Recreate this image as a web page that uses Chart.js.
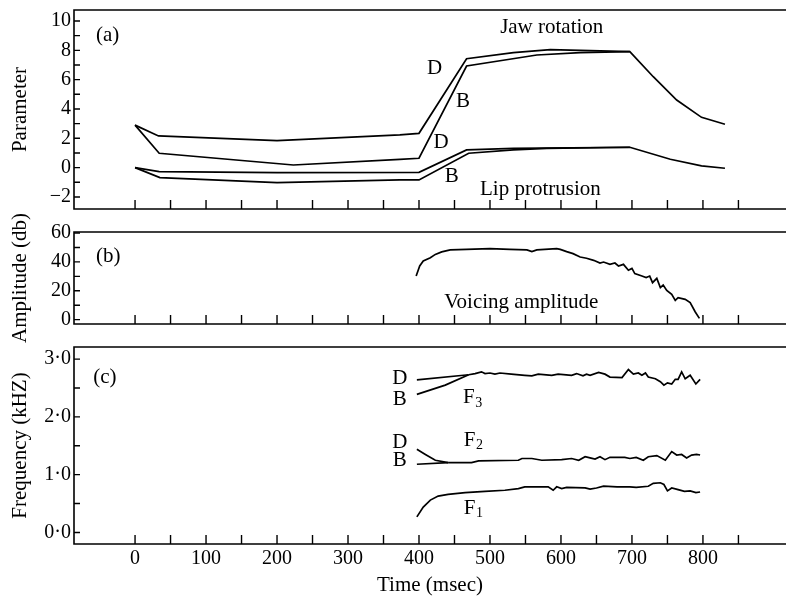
<!DOCTYPE html>
<html><head><meta charset="utf-8">
<script src="https://cdn.jsdelivr.net/npm/chart.js@4/dist/chart.umd.min.js"></script>
<style>
html,body{margin:0;padding:0;background:#fff;}
#wrap{position:relative;width:786px;height:596px;overflow:hidden;background:#fff}
.p{position:absolute;left:0;}
canvas{display:block}
</style></head><body>
<div id="wrap">
<div class="p" style="top:0px"><canvas id="ca" width="786" height="215"></canvas></div>
<div class="p" style="top:195px"><canvas id="cb" width="786" height="160"></canvas></div>
<div class="p" style="top:330px"><canvas id="cc" width="786" height="266"></canvas></div>
</div>
<script>
// ---------- data (time in msec) ----------
// (a) Jaw rotation
const jawTimeD = [0, 33, 200, 373, 400, 467, 533, 585, 697, 730, 763, 798, 831];
const jawD     = [2.9, 2.16, 1.84, 2.23, 2.34, 7.43, 7.84, 8.05, 7.91, 6.2, 4.61, 3.43, 2.96];
const jawTimeB = [0, 34, 223, 373, 400, 467, 566, 627, 697];
const jawB     = [2.9, 0.98, 0.18, 0.57, 0.64, 6.93, 7.68, 7.84, 7.91];
// (a) Lip protrusion
const lipTimeD = [0, 34, 200, 400, 467, 533, 697, 754, 798, 831];
const lipD     = [0, -0.27, -0.34, -0.32, 1.21, 1.32, 1.39, 0.57, 0.12, -0.04];
const lipTimeB = [0, 35, 200, 373, 400, 470, 533, 580, 697];
const lipB     = [0, -0.68, -1.02, -0.84, -0.84, 0.98, 1.21, 1.32, 1.39];
// (b) Voicing amplitude (db)
const ampTime = [396, 401, 406, 416, 423, 432, 444, 467, 500, 528, 552, 559, 566, 594, 599, 608, 617, 627, 636, 646, 655, 660, 669, 676, 681, 688, 695, 700, 704, 714, 720, 725, 729, 735, 740, 744, 749, 756, 761, 765, 775, 782, 789, 795];
const amp     = [30.2, 37.2, 40.6, 42.9, 45.2, 46.9, 48.3, 48.7, 49.2, 48.7, 48.3, 47.1, 48.3, 49.2, 48.7, 47.1, 45.7, 43.4, 42.5, 41.1, 39.2, 39.9, 38.3, 39.2, 37.2, 38.3, 34.2, 35.5, 31.9, 30.2, 29.1, 30.2, 25.6, 28.6, 22.2, 24.0, 20.3, 17.5, 13.4, 15.2, 14.1, 11.8, 5.5, 0.9];
// (c) Formants (kHz)
const f3TimeD = [397, 470];
const f3D     = [2.64, 2.73];
const f3TimeB = [397, 437, 470];
const f3B     = [2.39, 2.55, 2.73];
const f3Time  = [470, 479, 488, 493, 500, 507, 514, 530, 549, 559, 568, 587, 596, 615, 622, 631, 636, 641, 653, 662, 669, 686, 695, 702, 709, 714, 719, 723, 733, 740, 745, 750, 756, 761, 765, 770, 775, 782, 790, 796];
const f3      = [2.73, 2.75, 2.78, 2.75, 2.76, 2.74, 2.76, 2.74, 2.72, 2.71, 2.74, 2.72, 2.74, 2.72, 2.75, 2.71, 2.74, 2.72, 2.77, 2.74, 2.69, 2.68, 2.82, 2.74, 2.76, 2.72, 2.76, 2.69, 2.66, 2.61, 2.55, 2.59, 2.57, 2.65, 2.65, 2.78, 2.66, 2.72, 2.57, 2.65];
const f2TimeD = [397, 409, 423, 441];
const f2D     = [1.44, 1.35, 1.25, 1.21];
const f2TimeB = [397, 441];
const f2B     = [1.18, 1.21];
const f2Time  = [441, 474, 484, 540, 545, 559, 573, 601, 615, 625, 634, 641, 648, 655, 662, 669, 679, 690, 697, 706, 716, 723, 735, 747, 756, 763, 770, 777, 784, 791, 796];
const f2      = [1.21, 1.21, 1.24, 1.25, 1.28, 1.28, 1.25, 1.26, 1.28, 1.25, 1.31, 1.29, 1.27, 1.31, 1.26, 1.30, 1.30, 1.30, 1.28, 1.30, 1.25, 1.31, 1.33, 1.25, 1.40, 1.34, 1.35, 1.29, 1.34, 1.35, 1.34];
const f1Time  = [397, 406, 416, 427, 441, 465, 493, 521, 540, 549, 582, 589, 594, 601, 608, 634, 641, 650, 660, 679, 697, 706, 723, 730, 740, 745, 750, 756, 765, 774, 782, 790, 796];
const f1      = [0.27, 0.44, 0.56, 0.63, 0.66, 0.69, 0.71, 0.73, 0.76, 0.79, 0.79, 0.73, 0.79, 0.76, 0.78, 0.77, 0.75, 0.77, 0.80, 0.79, 0.79, 0.78, 0.80, 0.85, 0.86, 0.83, 0.72, 0.77, 0.74, 0.71, 0.72, 0.69, 0.70];

// ---------- ticks ----------
const xTickLabels = [0, 100, 200, 300, 400, 500, 600, 700, 800];
const xTickMarks  = [0, 50, 100, 150, 200, 250, 300, 350, 400, 450, 500, 550, 600, 650, 700, 750, 800, 850];
const yTicksA = [-2, 0, 2, 4, 6, 8, 10];
const yTickLabelsA = ['\u22122', '0', '2', '4', '6', '8', '10'];
const yMinorA = [-1, 1, 3, 5, 7, 9];
const yTicksB = [0, 20, 40, 60];
const yTickLabelsB = ['0', '20', '40', '60'];
const yMinorB = [10, 30, 50];
const yTicksC = [0, 1, 2, 3];
const yTickLabelsC = ['0\u00B70', '1\u00B70', '2\u00B70', '3\u00B70'];
const yMinorC = [0.5, 1.5, 2.5];

// ---------- annotations (data coordinates) ----------
const notesA = [
  {text: '(a)', x: -55, y: 9.0, align: 'left'},
  {text: 'Jaw rotation', x: 587, y: 9.59},
  {text: 'D', x: 422, y: 6.78},
  {text: 'B', x: 462, y: 4.5},
  {text: 'D', x: 431, y: 1.74},
  {text: 'B', x: 446, y: -0.61},
  {text: 'Lip protrusion', x: 571, y: -1.47}
];
const notesB = [
  {text: '(b)', x: -55, y: 43.6, align: 'left'},
  {text: 'Voicing amplitude', x: 544, y: 12.1}
];
const notesC = [
  {text: '(c)', x: -59, y: 2.69, align: 'left'},
  {text: 'D', x: 373, y: 2.67},
  {text: 'B', x: 373, y: 2.31},
  {text: 'F', sub: '3', x: 462, y: 2.33, align: 'left'},
  {text: 'D', x: 373, y: 1.56},
  {text: 'B', x: 373, y: 1.24},
  {text: 'F', sub: '2', x: 463, y: 1.59, align: 'left'},
  {text: 'F', sub: '1', x: 463, y: 0.42, align: 'left'}
];

// ---------- helpers ----------
const FONT = "'Liberation Serif', 'Times New Roman', serif";
Chart.defaults.font.family = FONT;
Chart.defaults.color = '#000';

function pts(t, v) { return t.map((tt, i) => ({x: tt, y: v[i]})); }
function ds(t, v) {
  return {data: pts(t, v), borderColor: '#000', borderWidth: 1.7, pointRadius: 0, tension: 0, fill: false};
}

const panelDeco = {
  id: 'panelDeco',
  afterDraw(chart, args, opts) {
    const ctx = chart.ctx, a = chart.chartArea, x = chart.scales.x, y = chart.scales.y;
    ctx.save();
    ctx.strokeStyle = '#000';
    ctx.lineWidth = 1.6;
    ctx.beginPath();
    ctx.moveTo(a.right, a.top); ctx.lineTo(a.left, a.top);
    ctx.lineTo(a.left, a.bottom); ctx.lineTo(a.right, a.bottom);
    ctx.stroke();
    ctx.lineWidth = 1.4;
    ctx.beginPath();
    opts.xMarks.forEach(v => {
      const px = x.getPixelForValue(v);
      ctx.moveTo(px, a.bottom); ctx.lineTo(px, a.bottom - 9);
    });
    opts.yMarks.forEach(v => {
      const py = y.getPixelForValue(v);
      ctx.moveTo(a.left, py); ctx.lineTo(a.left + 6, py);
    });
    ctx.stroke();
    ctx.fillStyle = '#000';
    ctx.textBaseline = 'middle';
    (opts.notes || []).forEach(n => {
      ctx.font = '21px ' + FONT;
      ctx.textAlign = n.align || 'center';
      const px = x.getPixelForValue(n.x), py = y.getPixelForValue(n.y);
      ctx.fillText(n.text, px, py);
      if (n.sub) {
        const w = ctx.measureText(n.text).width;
        ctx.font = '14px ' + FONT;
        ctx.textAlign = 'left';
        ctx.fillText(n.sub, px + w + 0.5, py + 5);
      }
    });
    ctx.restore();
  }
};

function yAxis(min, max, ticks, labels, title) {
  return {
    type: 'linear', position: 'left', min: min, max: max,
    afterFit: s => { s.width = 74; s.paddingTop = 0; s.paddingBottom = 0; },
    afterBuildTicks: s => { s.ticks = ticks.map(v => ({value: v})); },
    grid: {display: false, drawTicks: false},
    border: {display: false},
    ticks: {padding: 3, color: '#000', font: {size: 20, family: FONT}, autoSkip: false,
            callback: (v) => { const i = ticks.indexOf(v); return i >= 0 ? labels[i] : ''; }},
    title: {display: true, text: title, color: '#000', font: {size: 21, family: FONT, lineHeight: 1}, padding: {top: 10, bottom: 0}}
  };
}

function xHidden() {
  return {type: 'linear', min: -86, max: 917, display: false};
}

function makeChart(id, datasets, yOpt, xOpt, padding, deco) {
  return new Chart(document.getElementById(id), {
    type: 'line',
    data: {datasets: datasets},
    options: {
      responsive: false, animation: false, devicePixelRatio: 1,
      layout: {padding: padding},
      plugins: {legend: {display: false}, tooltip: {enabled: false}, panelDeco: deco},
      scales: {x: xOpt, y: yOpt}
    },
    plugins: [panelDeco]
  });
}

// (a)
makeChart('ca',
  [ds(jawTimeD, jawD), ds(jawTimeB, jawB), ds(lipTimeD, lipD), ds(lipTimeB, lipB)],
  yAxis(-2.82, 10.75, yTicksA, yTickLabelsA, 'Parameter'),
  xHidden(),
  {left: 0, right: 0, top: 10, bottom: 6},
  {xMarks: xTickMarks, yMarks: yTicksA.concat(yMinorA), notes: notesA});

// (b)
makeChart('cb',
  [ds(ampTime, amp)],
  yAxis(-3.0, 60.7, yTicksB, yTickLabelsB, 'Amplitude (db)'),
  xHidden(),
  {left: 0, right: 0, top: 37, bottom: 31},
  {xMarks: xTickMarks, yMarks: yTicksB.concat(yMinorB), notes: notesB});

// (c)
makeChart('cc',
  [ds(f3TimeD, f3D), ds(f3TimeB, f3B), ds(f3Time, f3), ds(f2TimeD, f2D), ds(f2TimeB, f2B), ds(f2Time, f2), ds(f1Time, f1)],
  yAxis(-0.20, 3.21, yTicksC, yTickLabelsC, 'Frequency (kHZ)'),
  {
    type: 'linear', min: -86, max: 917, position: 'bottom',
    afterFit: s => { s.height = 52; s.paddingLeft = 0; s.paddingRight = 0; },
    afterBuildTicks: s => { s.ticks = xTickLabels.map(v => ({value: v})); },
    grid: {display: false, drawTicks: false},
    border: {display: false},
    ticks: {padding: 3, color: '#000', font: {size: 20, family: FONT}, autoSkip: false, maxRotation: 0,
            callback: (v) => String(v)},
    title: {display: true, text: 'Time (msec)', color: '#000', font: {size: 21, family: FONT, lineHeight: 1}, padding: {top: 0, bottom: 0}}
  },
  {left: 0, right: 0, top: 17, bottom: 0},
  {xMarks: xTickMarks, yMarks: yTicksC.concat(yMinorC), notes: notesC});
</script>
</body></html>
